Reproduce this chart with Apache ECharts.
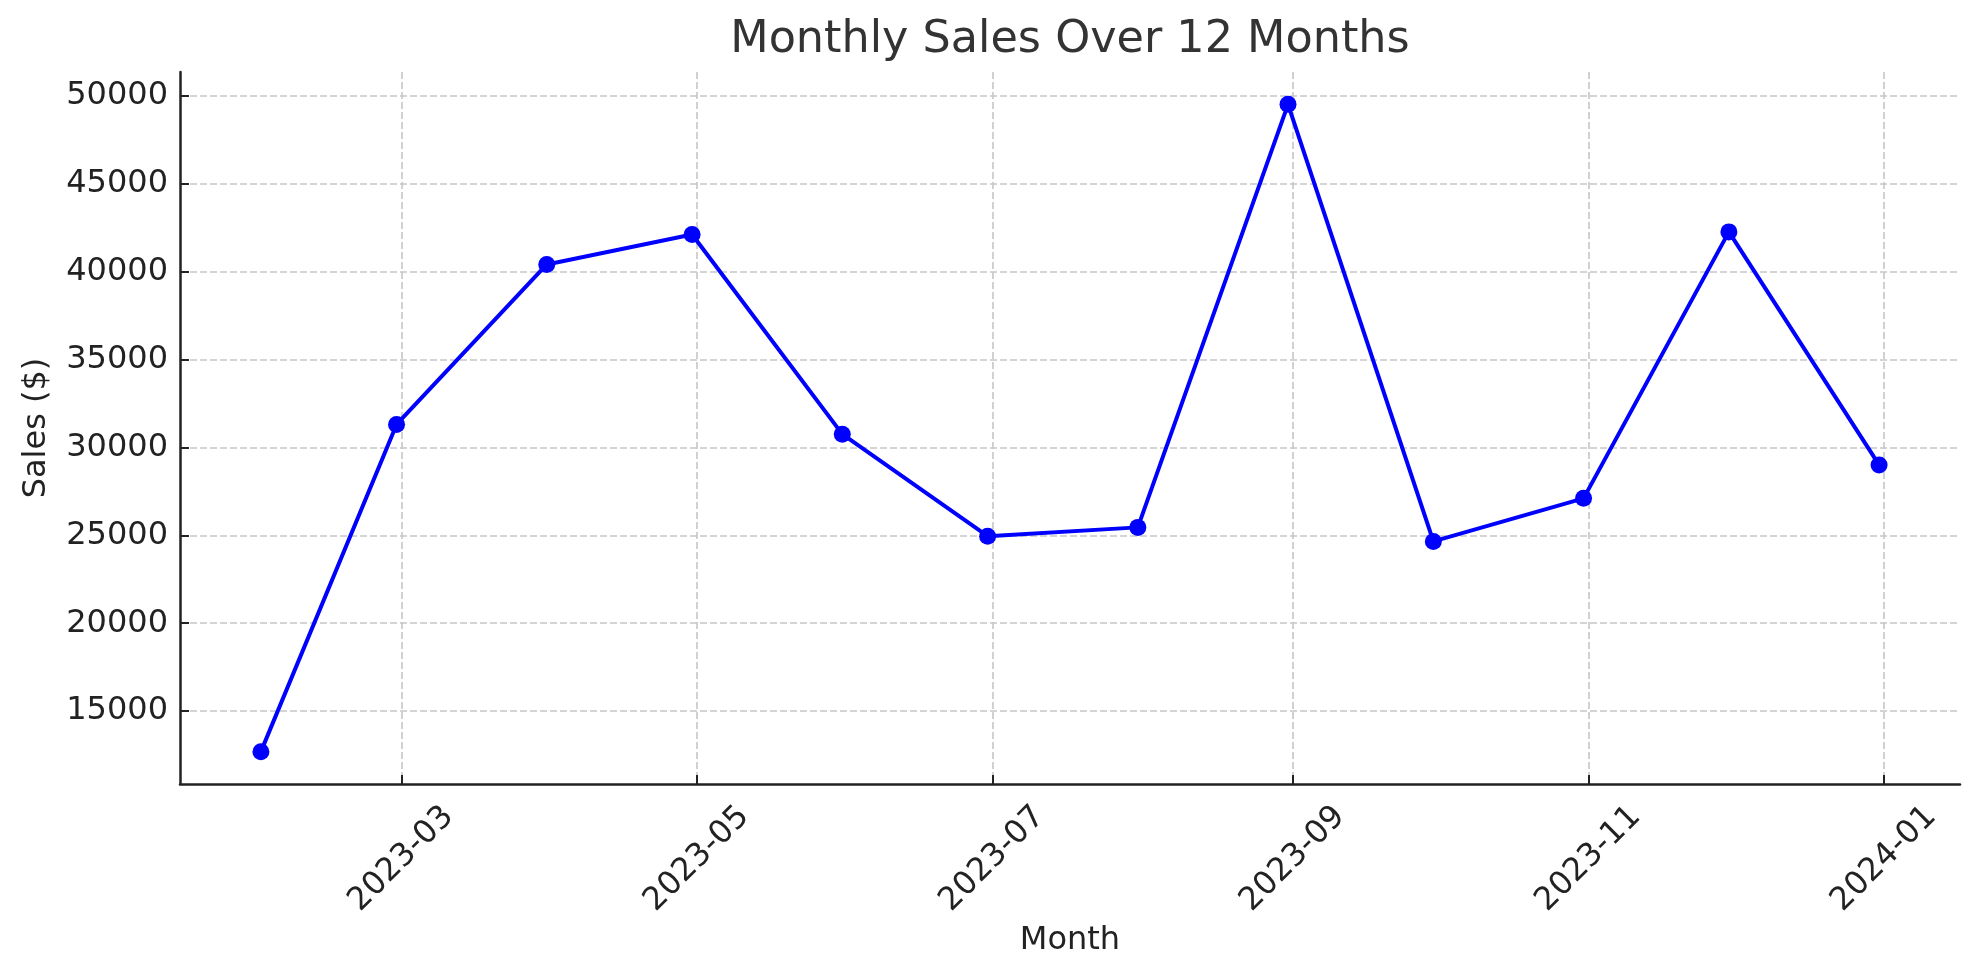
<!DOCTYPE html>
<html>
<head>
<meta charset="utf-8">
<script src="https://cdn.jsdelivr.net/npm/echarts@6/dist/echarts.min.js"></script>
<style>
html,body{margin:0;padding:0;background:#fff;}
#chart{width:1979px;height:980px;}
</style>
</head>
<body>
<div id="chart"></div>
<script>
// ---- data ----
const dates = ['2023-01-31','2023-02-28','2023-03-31','2023-04-30','2023-05-31','2023-06-30',
               '2023-07-31','2023-08-31','2023-09-30','2023-10-31','2023-11-30','2023-12-31'];
const sales = [12700, 31300, 40400, 42100, 30750, 24950, 25450, 49500, 24650, 27100, 42250, 29000];
const xTickDates = ['2023-03-01','2023-05-01','2023-07-01','2023-09-01','2023-11-01','2024-01-01'];
const yTicks = [15000, 20000, 25000, 30000, 35000, 40000, 45000, 50000];

function ts(s){ const p = s.split('-').map(Number); return Date.UTC(p[0], p[1]-1, p[2]); }
function fmt(v){ const d = new Date(v); return d.getUTCFullYear() + '-' + String(d.getUTCMonth()+1).padStart(2,'0'); }

const xs = dates.map(ts);
const xMin = xs[0], xMax = xs[xs.length-1], xr = xMax - xMin;
const yMin = Math.min(...sales), yMax = Math.max(...sales), yr = yMax - yMin;

const font = 'DejaVu Sans';
const chart = echarts.init(document.getElementById('chart'), null, {renderer:'canvas'});
chart.setOption({
  animation: false,
  backgroundColor: '#ffffff',
  textStyle: {fontFamily: font},
  title: {
    text: 'Monthly Sales Over 12 Months',
    left: 1065, top: 13, textAlign: 'center',
    textStyle: {fontFamily: font, fontSize: 44.5, fontWeight: 'normal', color: '#333333'}
  },
  grid: {left: 180, right: 19, top: 72, bottom: 196, containLabel: false, outerBoundsMode: 'none'},
  xAxis: {
    type: 'value',
    min: xMin - 0.05*xr, max: xMax + 0.05*xr,
    name: 'Month', nameLocation: 'middle', nameGap: 140,
    nameTextStyle: {fontFamily: font, fontSize: 32, color: '#222222'},
    axisLine: {show: true, lineStyle: {color: '#222222', width: 2.5}},
    axisTick: {show: true, inside: true, length: 9, customValues: xTickDates.map(ts), lineStyle: {color: '#222222', width: 2}},
    axisLabel: {
      customValues: xTickDates.map(ts),
      formatter: v => fmt(v),
      rotate: 45, align: 'center', verticalAlign: 'middle', margin: 75,
      fontFamily: font, fontSize: 32, color: '#222222'
    },
    splitLine: {show: true, lineStyle: {color: '#c6c6c6', width: 1.6, type: [7, 3]}}
  },
  yAxis: {
    type: 'value',
    min: yMin - 0.05*yr, max: yMax + 0.05*yr,
    name: 'Sales ($)', nameLocation: 'middle', nameGap: 127, nameRotate: 90,
    nameTextStyle: {fontFamily: font, fontSize: 32, color: '#222222'},
    axisLine: {show: true, lineStyle: {color: '#222222', width: 2.5}},
    axisTick: {show: true, inside: true, length: 9, customValues: yTicks, lineStyle: {color: '#222222', width: 2}},
    axisLabel: {customValues: yTicks, formatter: v => String(v), margin: 12, fontFamily: font, fontSize: 32, color: '#222222'},
    splitLine: {show: true, lineStyle: {color: '#c6c6c6', width: 1.6, type: [7, 3]}}
  },
  series: [{
    type: 'line',
    data: xs.map((x, i) => [x, sales[i]]),
    symbol: 'circle', symbolSize: 17, showSymbol: true,
    itemStyle: {color: '#0000ff'},
    lineStyle: {color: '#0000ff', width: 4}
  }]
});
</script>
</body>
</html>
